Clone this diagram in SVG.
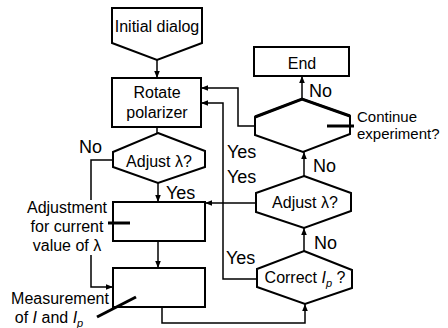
<svg xmlns="http://www.w3.org/2000/svg" width="448" height="328" viewBox="0 0 448 328">
<defs>
<marker id="ah" viewBox="0 0 10 10" refX="10" refY="5" markerWidth="7" markerHeight="7" orient="auto" markerUnits="userSpaceOnUse">
<path d="M0,1 L10,5 L0,9 z" fill="#000"/>
</marker>
<style>
.box{fill:#fff;stroke:#000;stroke-width:2}
.ln{fill:none;stroke:#000;stroke-width:1.5}
.cl{fill:none;stroke:#000;stroke-width:3}
text{font-family:"Liberation Sans",Arial,sans-serif;fill:#000}
.t{font-size:16px;text-anchor:middle}
.lb{font-size:18px}
.nt{font-size:15px}
</style>
</defs>
<rect width="448" height="328" fill="#fff"/>
<g id="connectors">
<path class="ln" d="M157,60 V78" marker-end="url(#ah)"/>
<path class="ln" d="M157,127 V133"/>
<path class="ln" d="M158,183 V202" marker-end="url(#ah)"/>
<path class="ln" d="M158,241 V268" marker-end="url(#ah)"/>
<path class="ln" d="M113,160 H91 V200"/>
<path class="ln" d="M91,255 V287 H113" marker-end="url(#ah)"/>
<path class="ln" d="M162,307 V323 H305 V304" marker-end="url(#ah)"/>
<path class="ln" d="M257,279 H223 V103 H201" marker-end="url(#ah)"/>
<path class="ln" d="M304,251 V228" marker-end="url(#ah)"/>
<path class="ln" d="M256,203 H205" marker-end="url(#ah)"/>
<path class="ln" d="M304,176 V152" marker-end="url(#ah)"/>
<path class="ln" d="M255,126 H238 V88 H201" marker-end="url(#ah)"/>
<path class="ln" d="M302,99 V76" marker-end="url(#ah)"/>
</g>
<g id="initial">
<polygon class="box" points="112,8 202,8 202,43 157,60 112,43"/>
<text class="t" x="157" y="32">Initial dialog</text>
</g>
<g id="rotate">
<rect class="box" x="112" y="78" width="89" height="49"/>
<text class="t" x="157" y="98">Rotate</text>
<text class="t" x="157" y="118">polarizer</text>
</g>
<g id="adjust1">
<polygon class="box" points="158,133 205,151 205,167 158,183 113,167 113,152"/>
<text class="t" x="159" y="167">Adjust λ?</text>
<text class="lb" x="79" y="153">No</text>
<text class="lb" x="166" y="199">Yes</text>
</g>
<g id="adjustment">
<rect class="box" x="113" y="202" width="92" height="39"/>
<path class="cl" d="M108,223 H130"/>
<text class="t" x="67" y="213">Adjustment</text>
<text class="t" x="67" y="232">for current</text>
<text class="t" x="67" y="251">value of λ</text>
</g>
<g id="measurement">
<rect class="box" x="113" y="268" width="92" height="39"/>
<path class="cl" d="M97,317 L136,297"/>
<text class="t" x="60" y="304">Measurement</text>
<text class="t" x="49" y="323">of <tspan font-style="italic">I</tspan> and <tspan font-style="italic">I</tspan><tspan font-style="italic" font-size="11" dy="4">p</tspan></text>
</g>
<g id="correct">
<polygon class="box" points="304,251 352,270 352,288 305,304 257,287 257,269"/>
<text class="t" x="305" y="283">Correct <tspan font-style="italic">I</tspan><tspan font-style="italic" font-size="11" dy="4">p</tspan><tspan dy="-4"> ?</tspan></text>
<text class="lb" x="226" y="264">Yes</text>
<text class="lb" x="314" y="249">No</text>
</g>
<g id="adjust2">
<polygon class="box" points="304,176 351,193 351,211 304,228 256,212 256,193"/>
<text class="t" x="305" y="208">Adjust λ?</text>
<text class="lb" x="227" y="158">Yes</text>
<text class="lb" x="227" y="183">Yes</text>
<text class="lb" x="313" y="172">No</text>
</g>
<g id="continue">
<polygon class="box" points="302,99 350,116 350,134 303,152 255,135 255,117"/>
<path class="cl" d="M255,117 L302,99 L350,116"/>
<path class="cl" d="M327,126 H354"/>
<text class="nt" x="357" y="122">Continue</text>
<text class="nt" x="357" y="139">experiment?</text>
<text class="lb" x="309" y="97">No</text>
</g>
<g id="end">
<rect class="box" x="254" y="47" width="95" height="29"/>
<text class="t" x="302" y="69" font-size="18">End</text>
</g>
</svg>
